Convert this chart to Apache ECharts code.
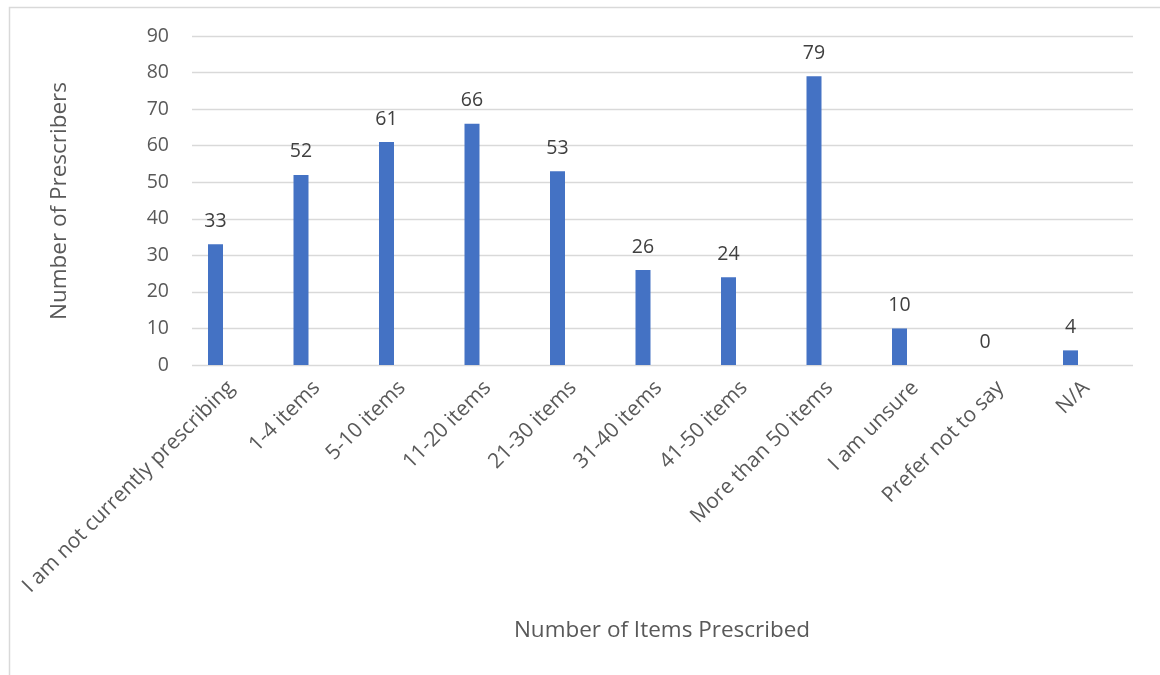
<!DOCTYPE html>
<html>
<head>
<meta charset="utf-8">
<script src="https://cdn.jsdelivr.net/npm/echarts@6/dist/echarts.min.js"></script>
<style>
  html, body { margin: 0; padding: 0; background: #fff; }
  #chart { width: 1160px; height: 675px; }
</style>
</head>
<body>
<div id="chart"></div>
<script>
// Survey responses: number of prescribers per monthly item band
const categories = [
  'I am not currently prescribing', '1-4 items', '5-10 items', '11-20 items',
  '21-30 items', '31-40 items', '41-50 items', 'More than 50 items',
  'I am unsure', 'Prefer not to say', 'N/A'
];
const prescribers = [33, 52, 61, 66, 53, 26, 24, 79, 10, 0, 4];
const yMin = 0, yMax = 90, yStep = 10;
const xTitle = 'Number of Items Prescribed';
const yTitle = 'Number of Prescribers';

const FONT = '"Open Sans", "Liberation Sans", sans-serif';
const TXT = '#595959';
const GRIDC = '#d9d9d9';

const chart = echarts.init(document.getElementById('chart'), null, { renderer: 'canvas' });
chart.setOption({
  animation: false,
  backgroundColor: '#ffffff',
  grid: [
    // gridlines and value labels
    { left: 192, right: 27, top: 36, bottom: 310, containLabel: false },
    // category bands for the bars
    { left: 172.75, width: 940.5, top: 36, bottom: 310, containLabel: false }
  ],
  xAxis: [
    { type: 'category', gridIndex: 0, data: categories, show: false },
    {
      type: 'category', gridIndex: 1, data: categories,
      axisLine: { show: false }, axisTick: { show: false },
      axisLabel: {
        rotate: 45, interval: 0, margin: 4,
        color: TXT, fontFamily: FONT, fontSize: 21,
        verticalAlign: 'top', lineHeight: 44
      }
    }
  ],
  yAxis: [
    {
      type: 'value', gridIndex: 0, min: yMin, max: yMax, interval: yStep,
      axisLine: { show: false }, axisTick: { show: false },
      axisLabel: { color: TXT, fontFamily: FONT, fontSize: 19.5, margin: 23 },
      splitLine: { lineStyle: { color: GRIDC, width: 1.3 } }
    },
    {
      type: 'value', gridIndex: 1, min: yMin, max: yMax, interval: yStep,
      show: false, splitLine: { show: false }
    }
  ],
  series: [{
    type: 'bar',
    xAxisIndex: 1, yAxisIndex: 1,
    data: prescribers,
    barWidth: 15,
    itemStyle: { color: '#4472C4' },
    label: {
      show: true, position: 'top', distance: 13,
      color: '#404040', fontFamily: FONT, fontSize: 19.5
    }
  }],
  graphic: [
    {
      type: 'rect', silent: true,
      shape: { x: 9.5, y: 7.5, width: 1200, height: 700 },
      style: { fill: 'none', stroke: GRIDC, lineWidth: 1.5 }
    },
    {
      type: 'text', silent: true,
      x: 60, y: 201, rotation: Math.PI / 2,
      style: {
        text: yTitle, fill: TXT, font: '22.5px ' + FONT,
        align: 'center', verticalAlign: 'middle'
      }
    },
    {
      type: 'text', silent: true,
      x: 662, y: 631,
      style: {
        text: xTitle, fill: TXT, font: '22.5px ' + FONT,
        align: 'center', verticalAlign: 'middle'
      }
    }
  ]
});
</script>
</body>
</html>
